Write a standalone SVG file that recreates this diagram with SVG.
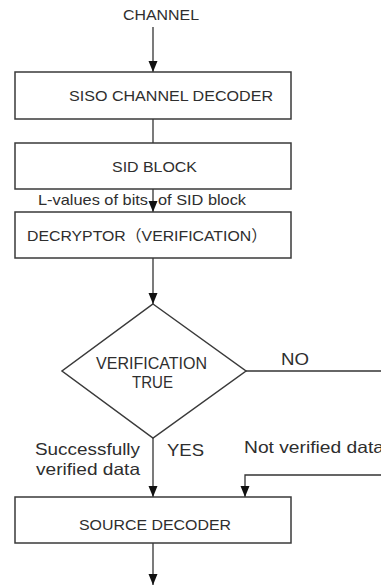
<svg xmlns="http://www.w3.org/2000/svg" width="381" height="585" viewBox="0 0 381 585">
<style>
.box{fill:#fff;stroke:#3a3a3a;stroke-width:1.5}
.lbl{font-family:"Liberation Sans",Arial,"Noto Sans CJK SC",sans-serif;font-size:15.5px;fill:#2e2e2e}
.elbl{font-family:"Liberation Sans",Arial,sans-serif;font-size:16.5px;fill:#2e2e2e}
.sm{font-family:"Liberation Sans",Arial,sans-serif;font-size:14.5px;fill:#2e2e2e}
.con{fill:none;stroke:#333;stroke-width:1.3}
</style>
<defs>
<marker id="ah" markerUnits="userSpaceOnUse" markerWidth="12" markerHeight="10" refX="11" refY="4.5" orient="auto">
<path d="M0,0 L11,4.5 L0,9 Z" fill="#111"/>
</marker>
</defs>
<rect width="381" height="585" fill="#fff"/>
<g id="connectors">
<line class="con" x1="153" y1="27" x2="153" y2="72" marker-end="url(#ah)"/>
<line class="con" x1="153" y1="119" x2="153" y2="143"/>
<line class="con" x1="153" y1="189" x2="153" y2="212" marker-end="url(#ah)"/>
<line class="con" x1="153" y1="258" x2="153" y2="304" marker-end="url(#ah)"/>
<line class="con" x1="153" y1="438" x2="153" y2="497" marker-end="url(#ah)"/>
<line class="con" x1="246" y1="371" x2="381" y2="371"/>
<polyline class="con" points="381,475 245,475 245,497" marker-end="url(#ah)"/>
<line class="con" x1="153" y1="543" x2="153" y2="585" marker-end="url(#ah)"/>
<text class="sm" x="38" y="205" textLength="110" lengthAdjust="spacingAndGlyphs">L-values of bits</text>
<text class="sm" x="158" y="205" textLength="88" lengthAdjust="spacingAndGlyphs">of SID block</text>
<text class="elbl" x="281" y="365" textLength="28" lengthAdjust="spacingAndGlyphs">NO</text>
<text class="elbl" x="35" y="455" textLength="105" lengthAdjust="spacingAndGlyphs">Successfully</text>
<text class="elbl" x="36" y="475" textLength="104" lengthAdjust="spacingAndGlyphs">verified data</text>
<text class="elbl" x="167" y="456" textLength="37" lengthAdjust="spacingAndGlyphs">YES</text>
<text class="elbl" x="244" y="453" textLength="140" lengthAdjust="spacingAndGlyphs">Not verified data</text>
</g>
<g id="channel">
<text class="lbl" x="123" y="20" style="font-size:14px" textLength="76" lengthAdjust="spacingAndGlyphs">CHANNEL</text>
</g>
<g id="siso">
<rect class="box" x="15" y="72" width="276" height="47"/>
<text class="lbl" x="69" y="100.5" textLength="204" lengthAdjust="spacingAndGlyphs">SISO CHANNEL DECODER</text>
</g>
<g id="sid">
<rect class="box" x="15" y="143" width="276" height="46"/>
<text class="lbl" x="112" y="172" textLength="85" lengthAdjust="spacingAndGlyphs">SID BLOCK</text>
</g>
<g id="decryptor">
<rect class="box" x="15" y="212" width="276" height="46"/>
<text class="lbl" x="27" y="241" textLength="240" lengthAdjust="spacingAndGlyphs">DECRYPTOR（VERIFICATION）</text>
</g>
<g id="verification">
<polygon class="box" points="153,304 246,371 153,438 62,371"/>
<text class="lbl" x="96" y="369" style="font-size:16px" textLength="111" lengthAdjust="spacingAndGlyphs">VERIFICATION</text>
<text class="lbl" x="132" y="388" style="font-size:16px" textLength="41" lengthAdjust="spacingAndGlyphs">TRUE</text>
</g>
<g id="source">
<rect class="box" x="15" y="497" width="276" height="46"/>
<text class="lbl" x="79" y="530" textLength="152" lengthAdjust="spacingAndGlyphs">SOURCE DECODER</text>
</g>
</svg>
